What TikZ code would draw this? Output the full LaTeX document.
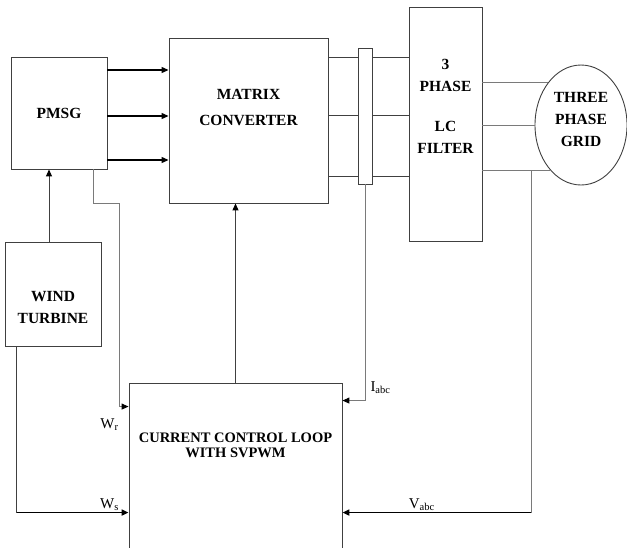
\documentclass[tikz,border=0pt]{standalone}
\usepackage{fontspec}
\setmainfont{Liberation Serif}
\usetikzlibrary{arrows.meta,positioning,calc,shapes.geometric}
\definecolor{frame}{HTML}{404040}
\definecolor{wire}{HTML}{7A7A7A}

\begin{document}
\begin{tikzpicture}[x=1pt,y=-1pt,>={Triangle[length=7pt,width=6pt,color=black]},
  box/.style={draw=frame,line width=0.9pt,inner sep=0pt},
  ttl/.style={font=\fontsize{15.5}{22}\selectfont\bfseries,align=center},
  sig/.style={font=\fontsize{15}{16}\selectfont,inner sep=1pt},
  link/.style={draw=frame,line width=1pt},
  wire/.style={draw=wire,line width=1pt},
  bus/.style={draw=black,line width=1.2pt},
  feed/.style={draw=black,line width=1.7pt}]
  \useasboundingbox (0,0) rectangle (627,547);
  \clip (0,0) rectangle (627,547);

  % blocks
  \node[box,ttl,minimum width=96pt,minimum height=112pt] (pmsg) at (59,113) {PMSG};
  \node[box,minimum width=159pt,minimum height=165pt,
        label={[ttl,font=\fontsize{15.5}{25.5}\selectfont\bfseries,yshift=13pt]center:{MATRIX\\CONVERTER}}]
        (mc) at (248.5,120.5) {};
  \node[box,minimum width=14pt,minimum height=136pt] (ct) at (365,116) {};
  \node[box,minimum width=73pt,minimum height=234pt,
        label={[ttl,yshift=18pt]center:{3\\PHASE\\[18pt]LC\\FILTER}}] (lcf) at (445.5,124) {};
  \node[box,ellipse,minimum width=92pt,minimum height=120pt,
        label={[ttl,yshift=6pt]center:{THREE\\PHASE\\GRID}}] (grid) at (581,125) {};
  \node[box,minimum width=96pt,minimum height=104pt,
        label={[ttl,yshift=-13pt]center:{WIND\\TURBINE}}] (wind) at (53,294) {};
  \node[box,minimum width=213pt,minimum height=180pt,
        label={[ttl,font=\fontsize{14.5}{15}\selectfont\bfseries,yshift=28pt]center:{CURRENT CONTROL LOOP\\WITH SVPWM}}]
        (ctrl) at (235.5,473) {};

  % power path
  \foreach \y in {70,116,160}
    \draw[bus,->] (pmsg.east |- 0,\y) -- (mc.west |- 0,\y);
  \foreach \y in {57,115,176} {
    \draw[link] (mc.east |- 0,\y) -- (ct.west |- 0,\y);
    \draw[link] (ct.east |- 0,\y) -- (lcf.west |- 0,\y);
  }
  \foreach \a in {128,180,236}
    \draw[wire] (lcf.east |- grid.\a) -- (grid.\a);

  \coordinate (wtop) at ([xshift=-4pt]wind.north);
  \draw[link,->] (wtop) -- (wtop |- pmsg.south);
  \draw[link,->] (ctrl.north) -- (ctrl.north |- mc.south);

  % feedback signals
  \coordinate (iin) at ($(ctrl.north east)+(0,18)$);
  \coordinate (vin) at ($(ctrl.north east)+(0,130)$);
  \coordinate (rin) at ($(ctrl.north west)+(0,24)$);
  \coordinate (win) at ($(ctrl.north west)+(0,130)$);
  \coordinate (vtap) at ($(lcf.east |- grid.236)!0.72!(grid.236)$);
  \coordinate (wrsrc) at ([xshift=-14pt]pmsg.south east);
  \coordinate (wsrc) at ([xshift=12pt]wind.south west);

  \draw[wire,->] (ct.south) |- node[sig,right,pos=0.47,xshift=4pt]{I\textsubscript{abc}} (iin);
  \draw[wire] (vtap) -- (vtap |- vin);
  \draw[feed,->] (vtap |- vin) -- node[sig,above,pos=0.58]{V\textsubscript{abc}} (vin);
  \draw[wire,->] (wrsrc) |- ++(26,34) |- (rin);
  \node[sig] (wr) at ($(ctrl.north west)+(-19,42)$) {W\textsubscript{r}};
  \draw[link] (wsrc) -- (wsrc |- win);
  \draw[feed,->] (wsrc |- win) -- node[sig,above,pos=0.83]{W\textsubscript{s}} (win);
\end{tikzpicture}
\end{document}
